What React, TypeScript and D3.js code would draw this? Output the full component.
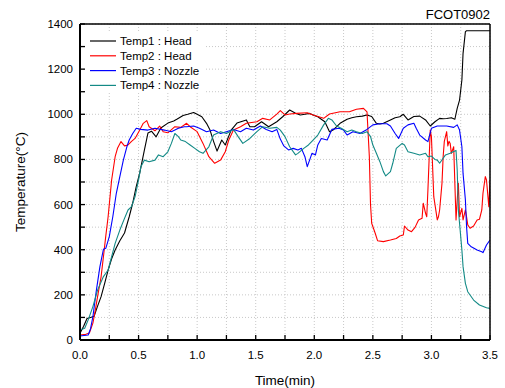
import React from "react";
import * as d3 from "d3";

const xTicks = [0, 0.5, 1.0, 1.5, 2.0, 2.5, 3.0, 3.5];
const yTicks = [0, 200, 400, 600, 800, 1000, 1200, 1400];
const seriesNames = ["Temp1 : Head", "Temp2 : Head", "Temp3 : Nozzle", "Temp4 : Nozzle"];
const seriesColors = ["#000000", "#ff0000", "#0000ff", "#138a86"];

const temp1: [number, number][] = [
  [0, 30], [0.03, 60], [0.06, 95], [0.09, 100], [0.12, 105], [0.15, 150], [0.18, 192], [0.21, 250],
  [0.24, 310], [0.27, 360], [0.30, 399], [0.34, 440], [0.38, 474], [0.42, 546], [0.45, 607], [0.48, 680],
  [0.51, 740], [0.55, 842], [0.58, 917], [0.61, 925], [0.65, 900], [0.69, 939], [0.75, 961], [0.80, 970],
  [0.83, 979], [0.88, 995], [0.92, 1000], [0.97, 1008], [1.0, 1000], [1.04, 989], [1.08, 960], [1.11, 930],
  [1.14, 880], [1.17, 837], [1.21, 886], [1.24, 864], [1.29, 930], [1.34, 961], [1.38, 968], [1.42, 975],
  [1.45, 945], [1.49, 945], [1.55, 967], [1.61, 945], [1.68, 967], [1.73, 989], [1.79, 1019], [1.84, 1005],
  [1.88, 997], [1.92, 1000], [1.96, 1004], [2.0, 995], [2.03, 989], [2.09, 967], [2.13, 923], [2.16, 930],
  [2.22, 960], [2.28, 978], [2.32, 985], [2.36, 989], [2.41, 992], [2.45, 997], [2.49, 990], [2.53, 960],
  [2.56, 957], [2.59, 960], [2.65, 975], [2.69, 985], [2.73, 989], [2.76, 1000], [2.80, 975], [2.85, 990],
  [2.90, 992], [2.95, 975], [2.99, 948], [3.03, 967], [3.07, 982], [3.10, 980], [3.13, 981], [3.17, 985],
  [3.20, 978], [3.22, 1026], [3.24, 1063], [3.26, 1152], [3.27, 1270], [3.29, 1366], [3.30, 1370], [3.5, 1370],
];

const temp2: [number, number][] = [
  [0, 22], [0.05, 25], [0.08, 31], [0.11, 75], [0.13, 130], [0.15, 192], [0.18, 280], [0.20, 369],
  [0.22, 460], [0.24, 546], [0.27, 709], [0.30, 812], [0.32, 849], [0.35, 879], [0.38, 860], [0.41, 864],
  [0.44, 880], [0.47, 893], [0.51, 930], [0.54, 960], [0.57, 972], [0.59, 945], [0.64, 927], [0.68, 948],
  [0.71, 923], [0.75, 918], [0.81, 945], [0.86, 942], [0.91, 960], [0.94, 945], [1.0, 923], [1.05, 871],
  [1.10, 812], [1.15, 783], [1.20, 797], [1.24, 834], [1.27, 886], [1.31, 930], [1.37, 945], [1.42, 960],
  [1.51, 967], [1.56, 982], [1.62, 975], [1.68, 1001], [1.71, 1016], [1.75, 997], [1.79, 1001], [1.85, 1004],
  [1.94, 1007], [1.99, 997], [2.08, 982], [2.13, 1001], [2.22, 1011], [2.30, 1011], [2.36, 1022], [2.42, 1026],
  [2.45, 1011], [2.47, 812], [2.48, 600], [2.49, 517], [2.52, 473], [2.54, 440], [2.59, 436], [2.65, 443],
  [2.70, 450], [2.73, 461], [2.76, 465], [2.77, 505], [2.80, 487], [2.83, 480], [2.86, 499], [2.89, 532],
  [2.92, 539], [2.93, 606], [2.95, 561], [2.96, 546], [2.97, 665], [2.99, 930], [3.00, 900], [3.02, 635],
  [3.05, 532], [3.06, 546], [3.07, 576], [3.09, 694], [3.10, 812], [3.11, 880], [3.13, 923], [3.14, 860],
  [3.15, 880], [3.16, 871], [3.17, 827], [3.19, 856], [3.20, 694], [3.21, 532], [3.22, 620], [3.23, 694],
  [3.24, 546], [3.26, 583], [3.27, 532], [3.29, 576], [3.30, 546], [3.31, 510], [3.33, 495], [3.36, 505],
  [3.39, 532], [3.41, 535], [3.43, 576], [3.44, 650], [3.46, 724], [3.47, 709], [3.49, 591], [3.5, 709],
];

const temp3: [number, number][] = [
  [0, 18], [0.07, 22], [0.09, 50], [0.11, 103], [0.14, 221], [0.17, 325], [0.20, 402], [0.22, 406],
  [0.25, 458], [0.28, 546], [0.31, 650], [0.34, 724], [0.37, 797], [0.40, 856], [0.42, 886], [0.45, 915],
  [0.48, 938], [0.52, 933], [0.58, 930], [0.64, 938], [0.72, 930], [0.78, 923], [0.84, 938], [0.89, 945],
  [0.91, 945], [0.97, 948], [1.02, 938], [1.08, 923], [1.14, 930], [1.20, 915], [1.25, 923], [1.31, 933],
  [1.37, 923], [1.42, 938], [1.48, 930], [1.54, 948], [1.59, 933], [1.64, 923], [1.68, 933], [1.71, 890],
  [1.74, 860], [1.78, 842], [1.82, 849], [1.86, 842], [1.89, 849], [1.92, 812], [1.94, 768], [1.96, 797],
  [1.98, 827], [2.01, 820], [2.03, 864], [2.06, 893], [2.11, 886], [2.15, 933], [2.21, 938], [2.25, 930],
  [2.28, 908], [2.33, 923], [2.39, 915], [2.45, 933], [2.50, 953], [2.56, 958], [2.62, 958], [2.65, 948],
  [2.69, 915], [2.72, 893], [2.76, 938], [2.80, 953], [2.85, 960], [2.87, 938], [2.90, 908], [2.95, 886],
  [2.97, 879], [3.0, 938], [3.05, 948], [3.13, 948], [3.19, 942], [3.22, 953], [3.24, 930], [3.26, 856],
  [3.27, 738], [3.29, 620], [3.30, 502], [3.31, 428], [3.34, 413], [3.39, 399], [3.43, 391], [3.44, 387],
  [3.47, 421], [3.5, 443],
];

const temp4: [number, number][] = [
  [0, 44], [0.04, 52], [0.07, 89], [0.11, 148], [0.15, 221], [0.20, 281], [0.24, 310], [0.27, 369],
  [0.30, 428], [0.34, 487], [0.38, 539], [0.41, 576], [0.44, 591], [0.47, 635], [0.50, 709], [0.52, 768],
  [0.55, 797], [0.59, 790], [0.64, 797], [0.67, 820], [0.71, 812], [0.75, 834], [0.78, 871], [0.81, 915],
  [0.84, 901], [0.86, 886], [0.90, 879], [0.94, 864], [0.98, 849], [1.02, 834], [1.05, 827], [1.10, 856],
  [1.14, 908], [1.20, 923], [1.25, 915], [1.31, 933], [1.35, 901], [1.39, 871], [1.45, 893], [1.51, 923],
  [1.56, 945], [1.62, 938], [1.68, 942], [1.71, 930], [1.75, 901], [1.79, 856], [1.84, 820], [1.86, 827],
  [1.91, 849], [1.95, 864], [1.99, 886], [2.03, 908], [2.08, 953], [2.12, 982], [2.15, 975], [2.19, 948],
  [2.23, 938], [2.28, 923], [2.32, 930], [2.36, 923], [2.41, 915], [2.45, 923], [2.48, 901], [2.50, 864],
  [2.53, 827], [2.56, 790], [2.59, 746], [2.61, 727], [2.65, 746], [2.67, 783], [2.70, 849], [2.75, 871],
  [2.77, 864], [2.80, 834], [2.85, 827], [2.90, 820], [2.95, 827], [2.97, 812], [3.0, 815], [3.03, 800],
  [3.05, 797], [3.07, 783], [3.12, 820], [3.16, 827], [3.19, 835], [3.21, 840], [3.22, 753], [3.23, 576],
  [3.24, 517], [3.25, 458], [3.26, 399], [3.27, 325], [3.29, 251], [3.31, 214], [3.36, 177], [3.41, 155],
  [3.47, 143], [3.5, 140],
];

const allSeries = [temp1, temp2, temp3, temp4];

const W = 505, H = 388;
const M = { left: 80, right: 15, top: 24, bottom: 48 };
const FONT = "'Liberation Sans', Arial, sans-serif";

export default function App() {
  const x = d3.scaleLinear().domain([0, 3.5]).range([M.left, W - M.right]);
  const y = d3.scaleLinear().domain([0, 1400]).range([H - M.bottom, M.top]);
  const line = d3.line<[number, number]>().x(d => x(d[0])).y(d => y(d[1]));
  const xGrid = d3.range(0, 3.5001, 0.25);
  const yGrid = d3.range(0, 1400.1, 100);
  const x0 = M.left, x1 = W - M.right, y0 = H - M.bottom, y1 = M.top;

  return (
    <svg width={W} height={H} style={{ position: "absolute", left: 0, top: 0 }} fontFamily={FONT}>
      <rect x={0} y={0} width={W} height={H} fill="#fff" />
      <defs>
        <clipPath id="plot">
          <rect x={x0} y={y1 - 2} width={x1 - x0} height={y0 - y1 + 2} />
        </clipPath>
      </defs>
      {/* grid */}
      {xGrid.map((t, i) => (
        <line key={"gx" + i} x1={x(t)} x2={x(t)} y1={y0} y2={y1} stroke="#c8c8c8" strokeWidth={1} strokeDasharray="1,2" />
      ))}
      {yGrid.map((v, i) => (
        <line key={"gy" + i} x1={x0} x2={x1} y1={y(v)} y2={y(v)} stroke="#c8c8c8" strokeWidth={1} strokeDasharray="1,2" />
      ))}
      {/* series */}
      <g clipPath="url(#plot)">
        {allSeries.map((s, i) => (
          <path key={"s" + i} d={line(s) || ""} fill="none" stroke={seriesColors[i]} strokeWidth={1.1} strokeLinejoin="round" />
        ))}
      </g>
      {/* legend */}
      <rect x={84} y={33} width={122} height={60} fill="#fff" />
      {seriesNames.map((n, i) => (
        <g key={"lg" + i}>
          <line x1={90} x2={116} y1={41 + i * 14.8} y2={41 + i * 14.8} stroke={seriesColors[i]} strokeWidth={1.2} />
          <text x={120} y={45 + i * 14.8} fontSize={11.5} fill="#000">{n}</text>
        </g>
      ))}
      {/* frame */}
      <line x1={x0} x2={x1} y1={y1} y2={y1} stroke="#000" strokeWidth={1.5} />
      <line x1={x1} x2={x1} y1={y1} y2={y0} stroke="#000" strokeWidth={1.5} />
      <line x1={x0} x2={x1} y1={y0} y2={y0} stroke="#000" strokeWidth={2} />
      <line x1={x0} x2={x0} y1={y1} y2={y0} stroke="#000" strokeWidth={2} />
      {/* ticks */}
      {xGrid.map((t, i) => (
        <line key={"tx" + i} x1={x(t)} x2={x(t)} y1={y0} y2={y0 - 5} stroke="#000" strokeWidth={1.3} />
      ))}
      {yGrid.map((v, i) => (
        <line key={"ty" + i} x1={x0} x2={x0 + 5} y1={y(v)} y2={y(v)} stroke="#000" strokeWidth={1.3} />
      ))}
      {xTicks.map((t, i) => (
        <text key={"lx" + i} x={x(t)} y={y0 + 19} fontSize={11.5} textAnchor="middle" fill="#000">{t.toFixed(1)}</text>
      ))}
      {yTicks.map((v, i) => (
        <text key={"ly" + i} x={x0 - 7} y={y(v) + 4} fontSize={11.5} textAnchor="end" fill="#000">{v}</text>
      ))}
      <text x={(x0 + x1) / 2} y={385} fontSize={13.5} textAnchor="middle" fill="#000">Time(min)</text>
      <text transform={`translate(25,${(y0 + y1) / 2}) rotate(-90)`} fontSize={13.5} textAnchor="middle" fill="#000">
        Temperature(°C)
      </text>
      <text x={x1} y={19} fontSize={13} textAnchor="end" fill="#000">FCOT0902</text>
    </svg>
  );
}
